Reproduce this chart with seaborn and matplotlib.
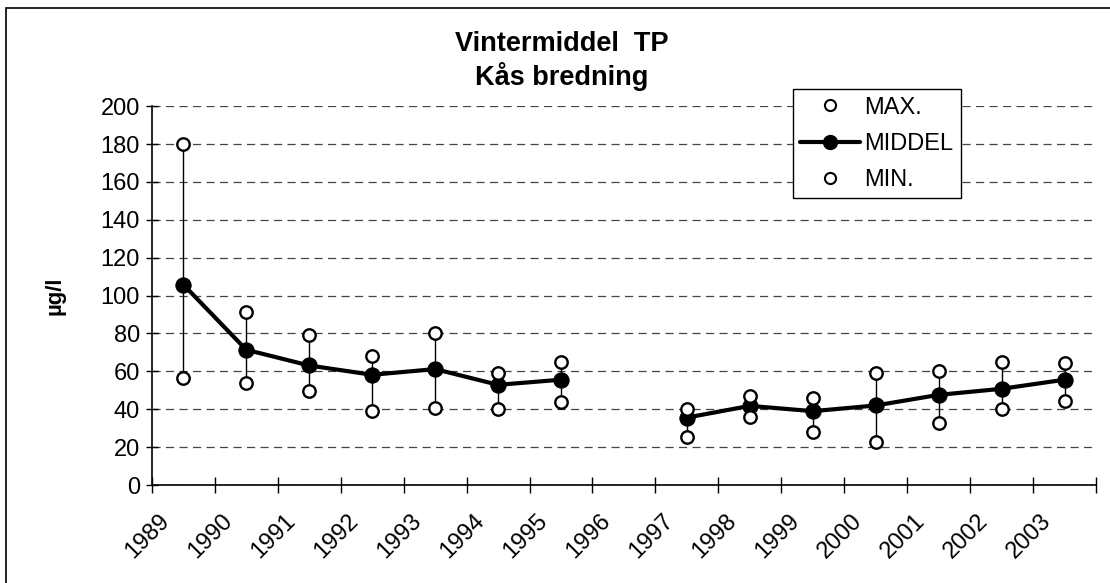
import numpy as np
import pandas as pd
import matplotlib
matplotlib.use("Agg")
import matplotlib.pyplot as plt
import matplotlib.transforms as mtransforms
from matplotlib.lines import Line2D
from matplotlib.patches import Rectangle
import seaborn as sns

# winter means of TP, Kaas bredning (ug/l), 1996 missing
years = [1989, 1990, 1991, 1992, 1993, 1994, 1995, 1996,
         1997, 1998, 1999, 2000, 2001, 2002, 2003]
max_vals = [180, 91.2, 79.2, 67.9, 80.1, 59.1, 65.2, np.nan,
            40.2, 47.1, 46.2, 59.4, 60.3, 65.2, 64.4]
mean_vals = [105.8, 71.4, 63.1, 58.2, 61.2, 52.9, 55.6, np.nan,
             35.6, 41.8, 39.0, 42.0, 47.6, 50.8, 55.6]
min_vals = [56.4, 53.8, 49.9, 39.0, 40.9, 40.4, 43.7, np.nan,
            25.2, 36.1, 28.2, 22.8, 33.0, 40.0, 44.1]
yticks = list(range(0, 201, 20))

sns.set_style("white")
plt.rcParams['font.family'] = ['Liberation Sans', 'DejaVu Sans']
plt.rcParams['text.color'] = 'black'
plt.rcParams['axes.labelcolor'] = 'black'

df = pd.DataFrame({"year": years, "MAX.": max_vals,
                   "MIDDEL": mean_vals, "MIN.": min_vals})
df["pos"] = np.arange(len(years)) + 0.5
df["segment"] = (df["year"] > 1996).astype(int)
df = df.dropna()

fig = plt.figure(figsize=(11.1, 5.83), dpi=100)
ax = fig.add_axes([0.1368, 0.168, 0.8506, 0.650])

# whiskers min -> max
ax.vlines(df["pos"], df["MIN."], df["MAX."], color="black", lw=1, zorder=2)

sns.lineplot(data=df, x="pos", y="MIDDEL", units="segment", estimator=None,
             color="black", lw=3, marker="o", markersize=11,
             markeredgecolor="black", ax=ax, zorder=3)
for col in ["MAX.", "MIN."]:
    sns.scatterplot(data=df, x="pos", y=col, s=80, facecolor="white",
                    edgecolor="black", linewidth=1.7, ax=ax, zorder=4)

ax.set_xlim(0, 15)
ax.set_ylim(0, 200)
ax.set_yticks(yticks)
ax.set_xticks(range(16))
ax.set_xticklabels([str(y) for y in years] + [""], rotation=45,
                   ha="right", rotation_mode="anchor")
ax.yaxis.grid(True, linestyle=(0, (6.5, 4.3)), color="#444444", lw=0.9)
ax.set_axisbelow(True)
sns.despine(ax=ax)
for s in ["left", "bottom"]:
    ax.spines[s].set_color("black")
    ax.spines[s].set_linewidth(1.2)
ax.tick_params(axis="y", left=True, direction="inout", length=9, width=1,
               labelsize=17, pad=4, colors="black")
ax.tick_params(axis="x", bottom=True, direction="inout", length=12, width=1,
               labelsize=17, pad=6, colors="black")
# labels sit a bit right of and below their tick, as in the original
shift = mtransforms.ScaledTranslation(0.07, -0.08, fig.dpi_scale_trans)
for lab in ax.get_xticklabels():
    lab.set_transform(lab.get_transform() + shift)

ax.set_xlabel("")
ax.set_ylabel("µg/l", fontsize=16, fontweight="bold", color="black")
ax.yaxis.set_label_coords(-0.091, 0.5)

fig.text(562 / 1110, 1 - 51 / 583, "Vintermiddel  TP", ha="center",
         va="baseline", fontsize=19.5, fontweight="bold", color="black")
fig.text(562 / 1110, 1 - 85 / 583, "Kås bredning", ha="center",
         va="baseline", fontsize=19.5, fontweight="bold", color="black")

h_max = Line2D([], [], ls="none", marker="o", markersize=8,
               mfc="white", mec="black", mew=1.5)
h_mean = Line2D([], [], color="black", lw=3, marker="o", markersize=10)
h_min = Line2D([], [], ls="none", marker="o", markersize=8,
               mfc="white", mec="black", mew=1.5)
leg = ax.legend([h_max, h_mean, h_min], ["MAX.", "MIDDEL", "MIN."],
                loc="upper left", bbox_to_anchor=(0.679, 1.045),
                frameon=True, fancybox=False, edgecolor="black",
                framealpha=1, fontsize=17, handlelength=2.5,
                handletextpad=0.2, labelspacing=0.6, borderpad=0.32,
                borderaxespad=0)
leg.get_frame().set_linewidth(1)
for t in leg.get_texts():
    t.set_color("black")

fig.patches.append(Rectangle((6 / 1110, -0.05), 1.2, 1 - 8 / 583 + 0.05,
                             transform=fig.transFigure, fill=False,
                             ec="black", lw=1.2))

fig.savefig("out.png", dpi=100)
